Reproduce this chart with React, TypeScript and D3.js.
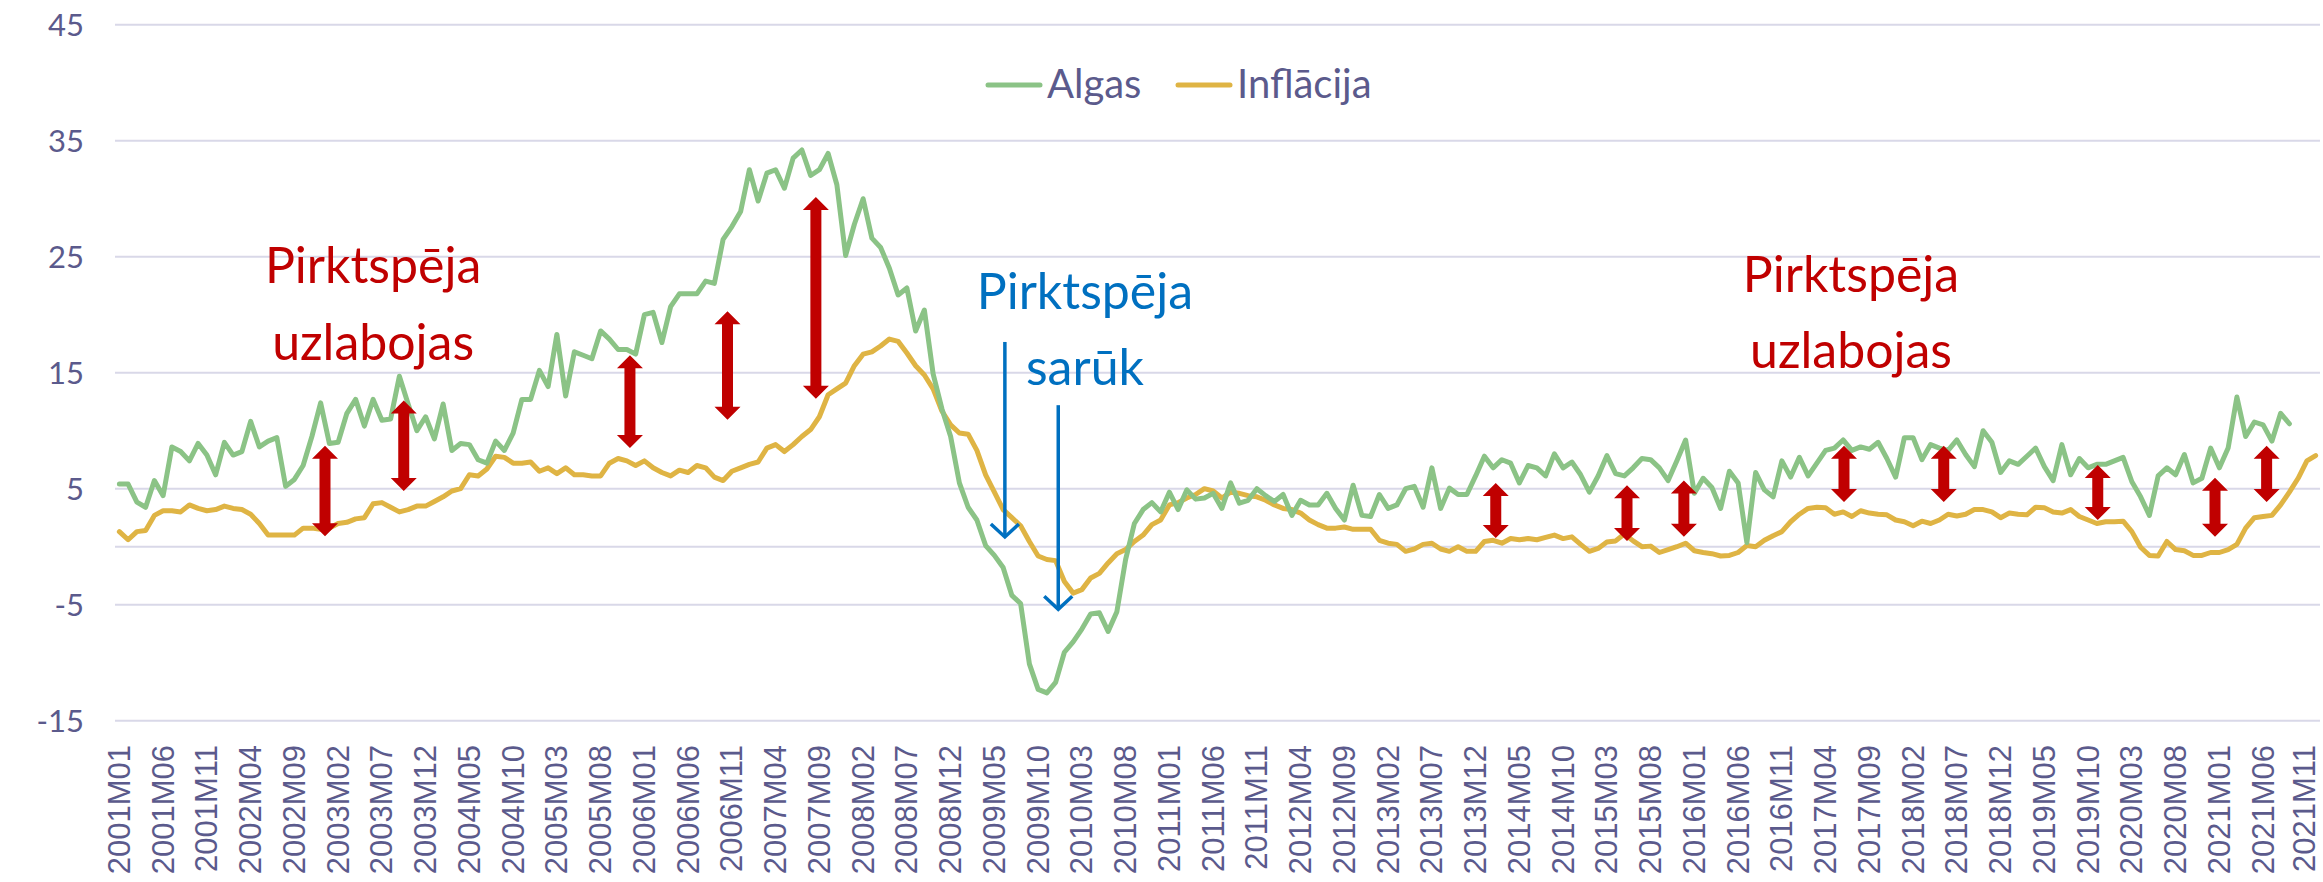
import React from "react";
import * as d3 from "d3";

// ---------- DATA ----------
const startYear = 2001;
const monthCount = 252; // 2001M01 .. 2021M12
const categories: string[] = [];
for (let k = 0; k < monthCount; k++) {
  const yr = startYear + Math.floor(k / 12);
  const m = (k % 12) + 1;
  categories.push(`${yr}M${m < 10 ? "0" + m : m}`);
}

const tickLabels = [
  "2001M01","2001M06","2001M11","2002M04","2002M09","2003M02","2003M07","2003M12","2004M05","2004M10",
  "2005M03","2005M08","2006M01","2006M06","2006M11","2007M04","2007M09","2008M02","2008M07","2008M12",
  "2009M05","2009M10","2010M03","2010M08","2011M01","2011M06","2011M11","2012M04","2012M09","2013M02",
  "2013M07","2013M12","2014M05","2014M10","2015M03","2015M08","2016M01","2016M06","2016M11","2017M04",
  "2017M09","2018M02","2018M07","2018M12","2019M05","2019M10","2020M03","2020M08","2021M01","2021M06",
  "2021M11",
];

const yTicks = [-15, -5, 5, 15, 25, 35, 45];

const algas = [
  5.4, 5.4, 3.85, 3.4, 5.7, 4.4, 8.6, 8.2, 7.4, 8.9,
  7.9, 6.2, 9.0, 7.9, 8.2, 10.8, 8.6, 9.1, 9.4, 5.2,
  5.8, 7.0, 9.5, 12.4, 8.9, 9.0, 11.5, 12.7, 10.4, 12.7,
  10.9, 11.0, 14.7, 12.3, 10.0, 11.2, 9.3, 12.3, 8.3, 8.9,
  8.8, 7.5, 7.2, 9.1, 8.3, 9.8, 12.7, 12.7, 15.2, 13.8,
  18.3, 13.0, 16.8, 16.5, 16.2, 18.6, 17.9, 17.0, 17.0, 16.6,
  20.0, 20.2, 17.6, 20.7, 21.8, 21.8, 21.8, 22.9, 22.7, 26.5,
  27.6, 28.9, 32.5, 29.8, 32.2, 32.5, 30.9, 33.5, 34.2, 32.0,
  32.5, 33.9, 31.2, 25.1, 27.8, 30.0, 26.6, 25.8, 24.0, 21.7,
  22.3, 18.6, 20.4, 14.9, 11.9, 9.5, 5.5, 3.4, 2.3, 0.1,
  -0.75, -1.8, -4.2, -4.9, -10.1, -12.3, -12.6, -11.7, -9.1, -8.2,
  -7.1, -5.8, -5.7, -7.3, -5.6, -1.1, 2.0, 3.2, 3.8, 3.0,
  4.7, 3.2, 4.9, 4.1, 4.2, 4.6, 3.3, 5.5, 3.75, 4.0,
  5.0, 4.4, 3.9, 4.5, 2.7, 4.0, 3.6, 3.6, 4.6, 3.3,
  2.3, 5.3, 2.7, 2.6, 4.5, 3.3, 3.6, 5.0, 5.2, 3.4,
  6.8, 3.3, 5.05, 4.5, 4.5, 6.1, 7.8, 6.8, 7.5, 7.2,
  5.5, 7.0, 6.8, 6.1, 8.0, 6.8, 7.3, 6.2, 4.7, 6.1,
  7.85, 6.3, 6.1, 6.8, 7.6, 7.5, 6.8, 5.7, 7.4, 9.2,
  4.6, 5.9, 5.1, 3.3, 6.5, 5.5, 0.35, 6.4, 4.9, 4.3,
  7.4, 6.0, 7.7, 6.1, 7.2, 8.3, 8.5, 9.2, 8.3, 8.6,
  8.4, 9.0, 7.6, 6.0, 9.4, 9.4, 7.5, 8.8, 8.5, 8.3,
  9.2, 7.95, 6.9, 10.0, 9.0, 6.4, 7.4, 7.1, 7.8, 8.5,
  6.9, 5.7, 8.8, 6.2, 7.6, 6.8, 7.1, 7.1, 7.4, 7.7,
  5.6, 4.3, 2.7, 6.1, 6.8, 6.2, 7.95, 5.5, 5.9, 8.5,
  6.8, 8.5, 12.9, 9.5, 10.75, 10.5, 9.1, 11.5, 10.6,
];

const inflacija = [
  1.3, 0.6, 1.3, 1.4, 2.7, 3.1, 3.1, 3.0, 3.6, 3.3,
  3.1, 3.2, 3.5, 3.3, 3.2, 2.8, 2.0, 1.0, 1.0, 1.0,
  1.0, 1.6, 1.6, 1.5, 1.6, 2.0, 2.1, 2.4, 2.5, 3.7,
  3.8, 3.4, 3.0, 3.2, 3.5, 3.5, 3.9, 4.3, 4.8, 5.0,
  6.2, 6.1, 6.7, 7.8, 7.7, 7.2, 7.2, 7.3, 6.5, 6.8,
  6.3, 6.8, 6.2, 6.2, 6.1, 6.1, 7.2, 7.6, 7.4, 7.0,
  7.4, 6.8, 6.4, 6.1, 6.6, 6.4, 7.0, 6.8, 6.0, 5.7,
  6.5, 6.8, 7.1, 7.3, 8.5, 8.8, 8.2, 8.8, 9.5, 10.1,
  11.2, 13.1, 13.6, 14.1, 15.6, 16.6, 16.8, 17.3, 17.9, 17.7,
  16.7, 15.6, 14.8, 13.6, 11.7, 10.5, 9.8, 9.7, 8.3, 6.2,
  4.7, 3.2, 2.5, 1.8, 0.45, -0.8, -1.1, -1.2, -3.0, -4.0,
  -3.7, -2.7, -2.3, -1.4, -0.6, -0.25, 0.45, 1.0, 1.9, 2.3,
  3.6, 3.8, 4.2, 4.5, 5.0, 4.8, 4.2, 4.7, 4.6, 4.4,
  4.3, 4.0, 3.6, 3.3, 3.2, 2.9, 2.3, 1.9, 1.6, 1.6,
  1.7, 1.5, 1.5, 1.5, 0.55, 0.3, 0.2, -0.4, -0.2, 0.2,
  0.3, -0.2, -0.4, 0.0, -0.4, -0.4, 0.45, 0.55, 0.3, 0.7,
  0.6, 0.7, 0.6, 0.8, 1.0, 0.7, 0.85, 0.2, -0.4, -0.15,
  0.4, 0.5, 1.1, 0.5, 0.0, 0.05, -0.5, -0.25, 0.0, 0.3,
  -0.35, -0.5, -0.6, -0.8, -0.75, -0.5, 0.1, 0.0, 0.55, 0.95,
  1.3, 2.15, 2.8, 3.3, 3.4, 3.35, 2.8, 3.0, 2.6, 3.1,
  2.9, 2.8, 2.75, 2.3, 2.15, 1.8, 2.2, 2.0, 2.3, 2.8,
  2.65, 2.8, 3.2, 3.2, 3.0, 2.5, 2.9, 2.8, 2.75, 3.4,
  3.35, 3.0, 2.9, 3.2, 2.6, 2.3, 2.0, 2.15, 2.15, 2.2,
  1.3, -0.05, -0.75, -0.8, 0.45, -0.25, -0.35, -0.75, -0.75, -0.5,
  -0.5, -0.25, 0.2, 1.6, 2.5, 2.6, 2.7, 3.6, 4.7, 5.9,
  7.4, 7.85,
];

const seriesNames = ["Algas", "Inflācija"];

// red double arrows: category index, top value, bottom value
const redArrowPos = [23.5, 32.5, 58.35, 69.5, 79.6, 157.3, 172.3, 178.8, 197.1, 208.5, 226.1, 239.5, 245.4];
const redArrowTop = [8.7, 12.6, 16.5, 20.3, 30.15, 5.5, 5.3, 5.7, 8.7, 8.7, 7.05, 5.95, 8.7];
const redArrowBottom = [0.9, 4.8, 8.5, 10.95, 12.75, 0.75, 0.5, 0.85, 3.85, 3.85, 2.3, 0.85, 3.85];

// blue arrows: category index, start value, tip value
const blueArrowPos = [101.2, 107.3];
const blueArrowStart = [17.65, 12.2];
const blueArrowTip = [0.84, -5.4];

// ---------- STYLE ----------
const W = 2323;
const H = 882;
const plotLeft = 115;
const plotRight = 2320;
const yTop = 24.7;
const yBottom = 720.7;
const green = "#8BC386";
const gold = "#DFB444";
const red = "#C00000";
const blue = "#0070C0";
const textCol = "#5B5A8C";
const gridCol = "#D9D8E8";
const annoFont = "Lato, 'Open Sans', sans-serif";

export default function App() {
  const x = d3.scaleBand<string>().domain(categories).range([plotLeft, plotRight]).padding(0);
  const bw = x.bandwidth();
  const xi = (i: number) => plotLeft + bw * (i + 0.5);
  const y = d3.scaleLinear().domain([-15, 45]).range([yBottom, yTop]);

  const line = d3
    .line<number>()
    .x((_, i) => xi(i))
    .y((d) => y(d));

  const arrowPath = (i: number, top: number, bot: number) => {
    const cx = xi(i);
    const t = y(top);
    const b = y(bot);
    const hw = 13;
    const sw = 5.5;
    const hh = 13;
    const pts: [number, number][] = [
      [cx, t], [cx + hw, t + hh], [cx + sw, t + hh], [cx + sw, b - hh], [cx + hw, b - hh],
      [cx, b], [cx - hw, b - hh], [cx - sw, b - hh], [cx - sw, t + hh], [cx - hw, t + hh],
    ];
    return "M" + pts.map((p) => p.join(",")).join("L") + "Z";
  };

  return (
    <svg
      width={W}
      height={H}
      style={{ position: "absolute", left: 0, top: 0, background: "#fff" }}
    >
      {/* gridlines */}
      {yTicks.map((t) => (
        <line key={t} x1={plotLeft} x2={plotRight} y1={y(t)} y2={y(t)} stroke={gridCol} strokeWidth={2} />
      ))}
      <line x1={plotLeft} x2={plotRight} y1={y(0)} y2={y(0)} stroke={gridCol} strokeWidth={2} />

      {/* y labels */}
      {yTicks.map((t) => (
        <text
          key={t}
          x={84}
          y={y(t)}
          dy="0.35em"
          textAnchor="end"
          fontFamily={annoFont}
          fontSize={31}
          fill={textCol}
        >
          {t}
        </text>
      ))}

      {/* x labels */}
      {tickLabels.map((c) => {
        const cx = (x(c) ?? 0) + bw / 2;
        const bx = Math.min(cx + 10.5, W - 8);
        return (
          <text
            key={c}
            transform={`translate(${bx},745) rotate(-90)`}
            textAnchor="end"
            fontFamily="'Liberation Sans', Arial, sans-serif"
            fontSize={31}
            fill={textCol}
          >
            {c}
          </text>
        );
      })}

      {/* lines */}
      <path d={line(inflacija) ?? ""} fill="none" stroke={gold} strokeWidth={5} strokeLinejoin="round" strokeLinecap="round" />
      <path d={line(algas) ?? ""} fill="none" stroke={green} strokeWidth={5} strokeLinejoin="round" strokeLinecap="round" />

      {/* red arrows */}
      {redArrowPos.map((p, k) => (
        <path key={k} d={arrowPath(p, redArrowTop[k], redArrowBottom[k])} fill={red} />
      ))}

      {/* blue arrows */}
      {blueArrowPos.map((p, k) => {
        const cx = xi(p);
        const t = y(blueArrowStart[k]);
        const b = y(blueArrowTip[k]);
        return (
          <g key={k} stroke={blue} strokeWidth={3.5} fill="none">
            <line x1={cx} x2={cx} y1={t} y2={b - 1} />
            <polyline points={`${cx - 14},${b - 13} ${cx},${b} ${cx + 14},${b - 13}`} />
          </g>
        );
      })}

      {/* annotations */}
      <g fontFamily={annoFont} fontSize={50} textAnchor="middle">
        <text x={xi(29.0)} y={y(22.7)} fill={red}>Pirktspēja</text>
        <text x={xi(29.0)} y={y(16.1)} fill={red}>uzlabojas</text>
        <text x={xi(197.9)} y={y(21.96)} fill={red}>Pirktspēja</text>
        <text x={xi(197.9)} y={y(15.4)} fill={red}>uzlabojas</text>
        <text x={xi(110.35)} y={y(20.5)} fill={blue}>Pirktspēja</text>
        <text x={xi(110.35)} y={y(13.94)} fill={blue}>sarūk</text>
      </g>

      {/* legend */}
      <g>
        <line x1={988} x2={1040} y1={85} y2={85} stroke={green} strokeWidth={5} strokeLinecap="round" />
        <text x={1047} y={98} fontFamily={annoFont} fontSize={40} fill={textCol}>{seriesNames[0]}</text>
        <line x1={1178} x2={1230} y1={85} y2={85} stroke={gold} strokeWidth={5} strokeLinecap="round" />
        <text x={1237} y={98} fontFamily={annoFont} fontSize={40} fill={textCol}>{seriesNames[1]}</text>
      </g>
    </svg>
  );
}
